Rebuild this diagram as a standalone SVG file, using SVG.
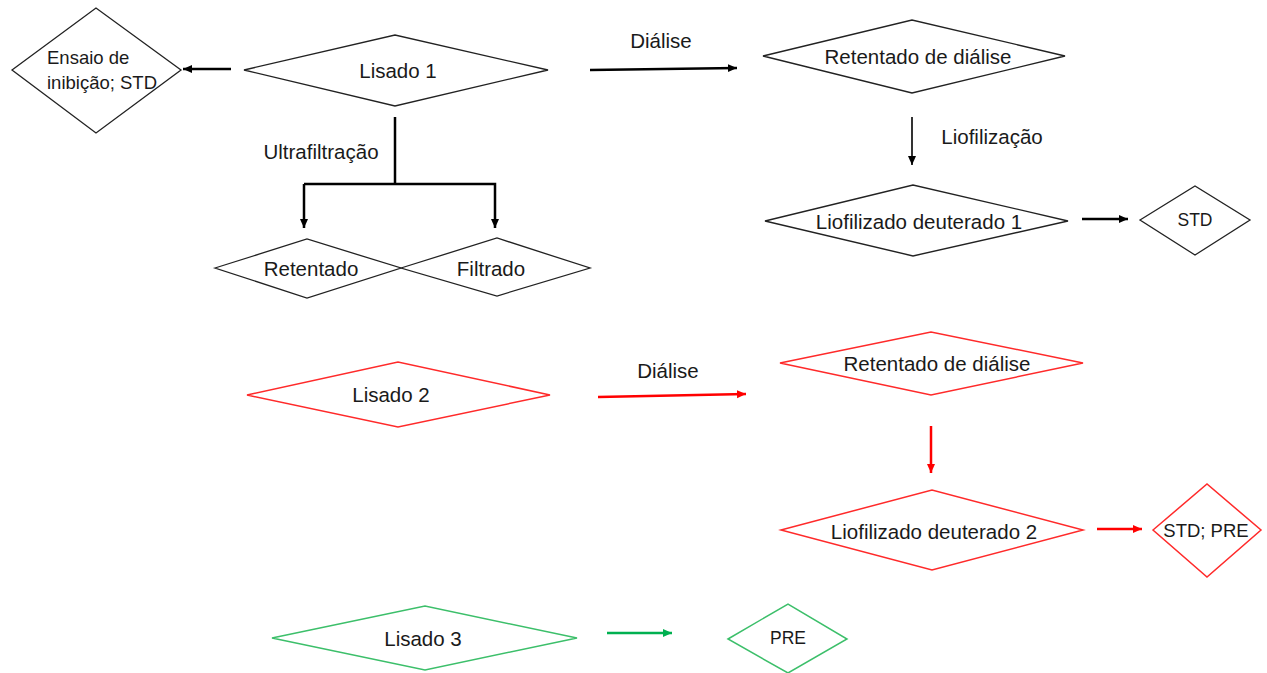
<svg xmlns="http://www.w3.org/2000/svg" width="1267" height="673" viewBox="0 0 1267 673">
<style>
text{font-family:"Liberation Sans",Arial,sans-serif;font-size:20.5px;fill:#1a1a1a;text-anchor:middle;dominant-baseline:central}
.sm{font-size:18.5px}
.xs{font-size:17.5px}
.lt{text-anchor:start}
.dk{fill:#fff;stroke:#222;stroke-width:1.3}
.dr{fill:#fff;stroke:#ff2a2a;stroke-width:1.5}
.dg{fill:#fff;stroke:#3cbf6a;stroke-width:1.5}
.ck{fill:none;stroke:#000;stroke-width:2.5}
.ct{fill:none;stroke:#000;stroke-width:1.6}
.cr{fill:none;stroke:#ff0000;stroke-width:2.5}
.cg{fill:none;stroke:#00b050;stroke-width:2.5}
</style>
<defs>
<marker id="ak" markerUnits="userSpaceOnUse" markerWidth="10" markerHeight="10" refX="9" refY="5" orient="auto"><path d="M0,1 L9,5 L0,9 Z" fill="#000"/></marker>
<marker id="ar" markerUnits="userSpaceOnUse" markerWidth="10" markerHeight="10" refX="9" refY="5" orient="auto"><path d="M0,1 L9,5 L0,9 Z" fill="#ff0000"/></marker>
<marker id="ag" markerUnits="userSpaceOnUse" markerWidth="10" markerHeight="10" refX="9" refY="5" orient="auto"><path d="M0,1 L9,5 L0,9 Z" fill="#00b050"/></marker>
</defs>
<rect width="1267" height="673" fill="#fff"/>
<g id="connectors">
<path class="ck" d="M231,69 L183,69" marker-end="url(#ak)"/>
<path class="ck" d="M590,70 L737,68" marker-end="url(#ak)"/>
<path class="ct" d="M912,117 L912,165" marker-end="url(#ak)"/>
<path class="ck" d="M1082,219 L1128,219" marker-end="url(#ak)"/>
<path class="ck" d="M395,117 L395,184"/>
<path class="ck" d="M304,184 L495,184 L495,228" marker-end="url(#ak)"/>
<path class="ck" d="M304,184 L304,228" marker-end="url(#ak)"/>
<path class="cr" d="M598,397 L746,394" marker-end="url(#ar)"/>
<path class="cr" d="M931,426 L931,473" marker-end="url(#ar)"/>
<path class="cr" d="M1097,529 L1142,529" marker-end="url(#ar)"/>
<path class="cg" d="M607,633 L672,633" marker-end="url(#ag)"/>
<text x="661" y="40">Diálise</text>
<text x="992" y="136">Liofilização</text>
<text x="321" y="151">Ultrafiltração</text>
<text x="668" y="370">Diálise</text>
</g>
<g id="ensaio"><polygon class="dk" points="12,70 96,8 181,70 96,133"/><text class="sm lt" x="47" y="57">Ensaio de</text><text class="sm lt" x="47" y="82">inibição; STD</text></g>
<g id="lisado1"><polygon class="dk" points="244,70 395,35 548,70 395,106"/><text x="398" y="70">Lisado 1</text></g>
<g id="retentado-dialise-1"><polygon class="dk" points="763,56 912,20 1065,56 912,93"/><text x="918" y="56">Retentado de diálise</text></g>
<g id="liofilizado1"><polygon class="dk" points="765,221 913,185 1068,221 913,256"/><text x="919" y="221">Liofilizado deuterado 1</text></g>
<g id="std1"><polygon class="dk" points="1140,220 1195,186 1250,220 1195,255"/><text class="xs" x="1195" y="220">STD</text></g>
<g id="retentado"><polygon class="dk" points="215,268 307,239 401,268 307,298"/><text x="311" y="268">Retentado</text></g>
<g id="filtrado"><polygon class="dk" points="401,268 497,238 590,268 497,296"/><text x="491" y="268">Filtrado</text></g>
<g id="lisado2"><polygon class="dr" points="247,395 398,362 550,395 398,427"/><text x="391" y="394">Lisado 2</text></g>
<g id="retentado-dialise-2"><polygon class="dr" points="780,363 931,332 1083,363 931,395"/><text x="937" y="363">Retentado de diálise</text></g>
<g id="liofilizado2"><polygon class="dr" points="781,530 932,490 1083,530 932,570"/><text x="934" y="531">Liofilizado deuterado 2</text></g>
<g id="std-pre"><polygon class="dr" points="1153,530 1207,484 1261,530 1207,577"/><text class="sm" x="1206" y="530">STD; PRE</text></g>
<g id="lisado3"><polygon class="dg" points="272,638 425,606 577,638 425,670"/><text x="423" y="638">Lisado 3</text></g>
<g id="pre"><polygon class="dg" points="728,639 788,604 847,639 788,673"/><text class="xs" x="788" y="638">PRE</text></g>
</svg>
